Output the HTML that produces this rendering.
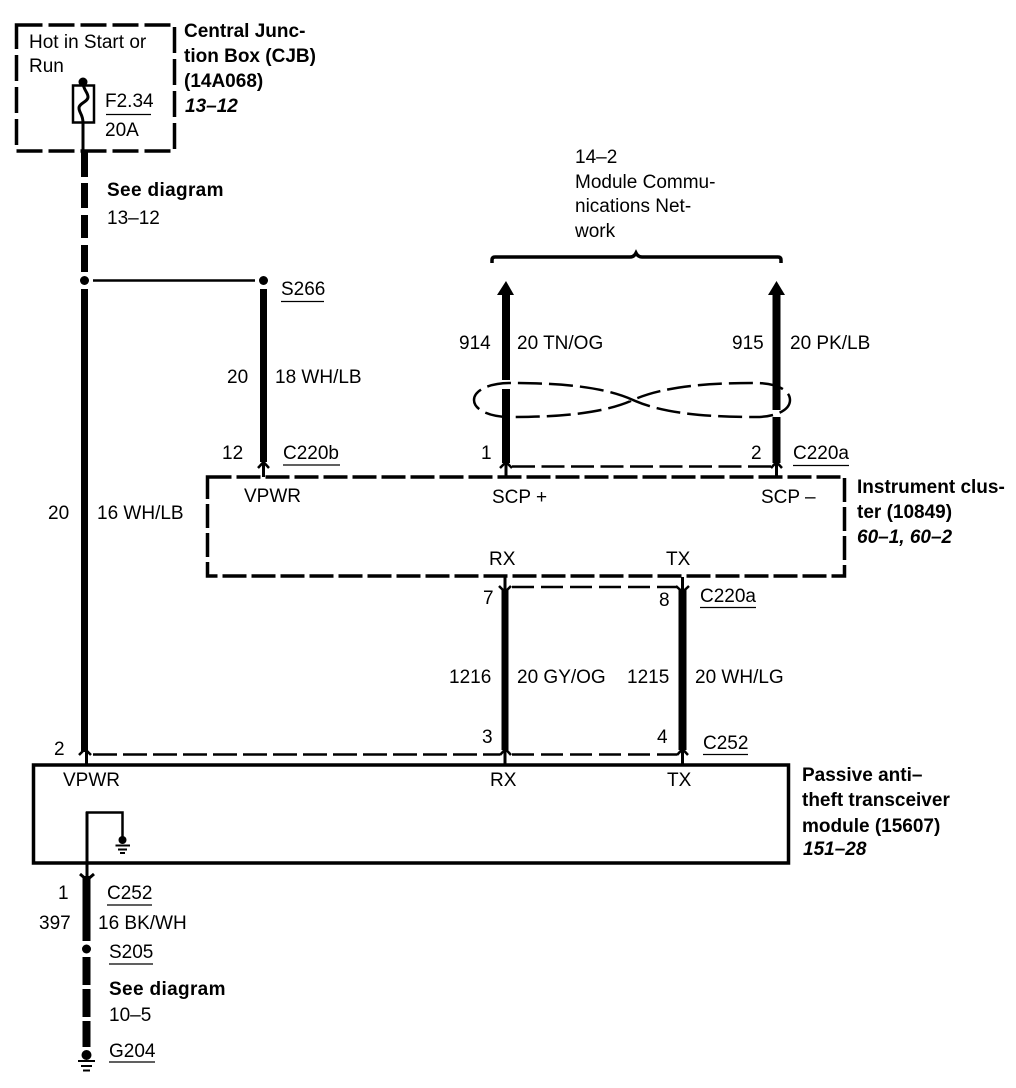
<!DOCTYPE html>
<html><head><meta charset="utf-8"><style>
html,body{margin:0;padding:0;background:#fff}
svg{display:block}
text{font-family:"Liberation Sans",sans-serif;font-size:19px;fill:#000}
.b{font-weight:bold;font-size:19px}
.i{font-weight:bold;font-style:italic;font-size:19px}
</style></head><body>
<svg width="1016" height="1088" viewBox="0 0 1016 1088" xmlns="http://www.w3.org/2000/svg">
<g fill="none" stroke="#000">
<!-- boxes -->
<rect x="16.5" y="25" width="158" height="126" stroke-width="3.5" stroke-dasharray="26 6"/>
<rect x="207.5" y="477" width="637" height="99" stroke-width="3.5" stroke-dasharray="24 5"/>
<rect x="33.5" y="765" width="755" height="98" stroke-width="3.5"/>
<!-- fuse -->
<rect x="73" y="85.5" width="21" height="37" stroke-width="2.5"/>
<path d="M83 82C83 90 88 92 88 97C88 102 79 103 79 108C79 113 83 114 83 123V152" stroke-width="3"/>
<!-- main left wire -->
<path d="M84.5 152V177M84.5 183V208M84.5 215V238M84.5 245V272M84.5 289V752" stroke-width="7"/>
<path d="M93 280.5H255" stroke-width="2.5"/>
<path d="M263.5 289V462" stroke-width="7"/>
<path d="M263.5 462V477M506 462V477M776.5 462V477M505 577V592M682.5 577V592M505 750V765M682.5 750V765M86.5 750V765" stroke-width="3"/>
<!-- top arrows wires -->
<path d="M506 292V380M506 389V463" stroke-width="8"/>
<path d="M776.5 292V410M776.5 417V463" stroke-width="8"/>
<!-- RX TX wires -->
<path d="M505 590V750" stroke-width="7"/>
<path d="M682.5 590V750" stroke-width="8"/>
<!-- connector dashes -->
<path d="M512 466.5H772" stroke-width="2.5" stroke-dasharray="23 6.5"/>
<path d="M512 587H677" stroke-width="2.5" stroke-dasharray="22 7"/>
<path d="M93 754.5H500" stroke-width="2.5" stroke-dasharray="24 6"/>
<path d="M512 754.5H677" stroke-width="2.5" stroke-dasharray="22 7"/>
<!-- connector chevrons -->
<path d="M258 468L263.5 462L269 468M500 468L506 462L512 468M771 468L776.5 462L782 468M79 755L85 749L91 755M500 755L505.5 749L511 755M677 755L682.5 749L688 755M499 586L505 592L511 586M676 586L682.5 592L689 586" stroke-width="2.5"/>
<!-- figure eight -->
<path d="M633 400C600 385 550 383 510 383C490 383 474 390 474 400C474 410 490 417 510 417C550 417 600 415 633 400C666 385 716 383 756 383C776 383 790 390 790 400C790 410 776 417 756 417C716 417 666 415 633 400Z" stroke-width="2.5" stroke-dasharray="24 7"/>
<!-- brace -->
<path d="M492 263V260Q492 257 495 257H630Q634 257 636 253Q638 257 642 257H778Q781 257 781 260V263" stroke-width="3.5"/>
<!-- module ground -->
<path d="M87 865V812.5H122.5V838" stroke-width="2.5"/>
<path d="M87 812V865" stroke-width="3"/>
<path d="M115.5 845.5H130M118 849.5H127M120 853H125" stroke-width="2"/>
<!-- lower wire -->
<path d="M87 865V876" stroke-width="3"/>
<path d="M80 874L87 880L94 874" stroke-width="3"/>
<path d="M86.5 876V941M86.5 957V985M86.5 989V1017M86.5 1021V1047" stroke-width="8"/>
<path d="M78 1061H95M81 1066H92M83 1070.5H90" stroke-width="2"/>
<!-- underlines -->
<path d="M106 114.5H151M281 301.5H324M283 465H340M793 465.5H849M700 607.5H756M703 754.5H748M107 905H152M109 964H153M109 1062H155" stroke-width="1.2"/>
</g>
<g fill="#000">
<circle cx="83" cy="82" r="4.5"/>
<circle cx="84.5" cy="280.5" r="4.5"/>
<circle cx="263.5" cy="280.5" r="4.5"/>
<circle cx="86.5" cy="949" r="4.5"/>
<circle cx="86.5" cy="1055" r="5"/>
<circle cx="122.500" cy="840" r="4"/>
<path d="M506 281L514 295H497Z"/>
<path d="M776.5 281L785 295H768Z"/>
</g>
<!-- CJB -->
<text x="29" y="48">Hot in Start or</text>
<text x="29" y="72">Run</text>
<text x="105" y="107">F2.34</text>
<text x="105" y="136">20A</text>
<text class="b" x="184" y="37">Central Junc-</text>
<text class="b" x="184" y="62">tion Box (CJB)</text>
<text class="b" x="184" y="87">(14A068)</text>
<text class="i" x="185" y="112">13–12</text>
<text class="b" x="107" y="196" letter-spacing=".35">See diagram</text>
<text x="107" y="224">13–12</text>
<!-- network -->
<text x="575" y="163">14–2</text>
<text x="575" y="188">Module Commu-</text>
<text x="575" y="212">nications Net-</text>
<text x="575" y="237">work</text>
<text x="281" y="295">S266</text>
<text x="459" y="349">914</text>
<text x="517" y="349">20 TN/OG</text>
<text x="732" y="349">915</text>
<text x="790" y="349">20 PK/LB</text>
<text x="227" y="383">20</text>
<text x="275" y="383">18 WH/LB</text>
<text x="222" y="459">12</text>
<text x="283" y="459">C220b</text>
<text x="481" y="459">1</text>
<text x="751" y="459">2</text>
<text x="793" y="459">C220a</text>
<text x="244" y="502">VPWR</text>
<text x="492" y="503">SCP +</text>
<text x="761" y="503">SCP –</text>
<text class="b" x="857" y="493">Instrument clus-</text>
<text class="b" x="857" y="518">ter (10849)</text>
<text class="i" x="857" y="543">60–1, 60–2</text>
<text x="48" y="519">20</text>
<text x="97" y="519">16 WH/LB</text>
<text x="489" y="565">RX</text>
<text x="666" y="565">TX</text>
<text x="483" y="604">7</text>
<text x="659" y="606">8</text>
<text x="700" y="602">C220a</text>
<text x="449" y="683">1216</text>
<text x="517" y="683">20 GY/OG</text>
<text x="627" y="683">1215</text>
<text x="695" y="683">20 WH/LG</text>
<text x="482" y="743">3</text>
<text x="657" y="743">4</text>
<text x="703" y="749">C252</text>
<text x="54" y="755">2</text>
<text x="63" y="786">VPWR</text>
<text x="490" y="786">RX</text>
<text x="667" y="786">TX</text>
<text class="b" x="802" y="781">Passive anti–</text>
<text class="b" x="802" y="806">theft transceiver</text>
<text class="b" x="802" y="832">module (15607)</text>
<text class="i" x="803" y="855">151–28</text>
<text x="58" y="899">1</text>
<text x="107" y="899">C252</text>
<text x="39" y="929">397</text>
<text x="98" y="929">16 BK/WH</text>
<text x="109" y="958">S205</text>
<text class="b" x="109" y="995" letter-spacing=".35">See diagram</text>
<text x="109" y="1021">10–5</text>
<text x="109" y="1057">G204</text>
</svg>
</body></html>
